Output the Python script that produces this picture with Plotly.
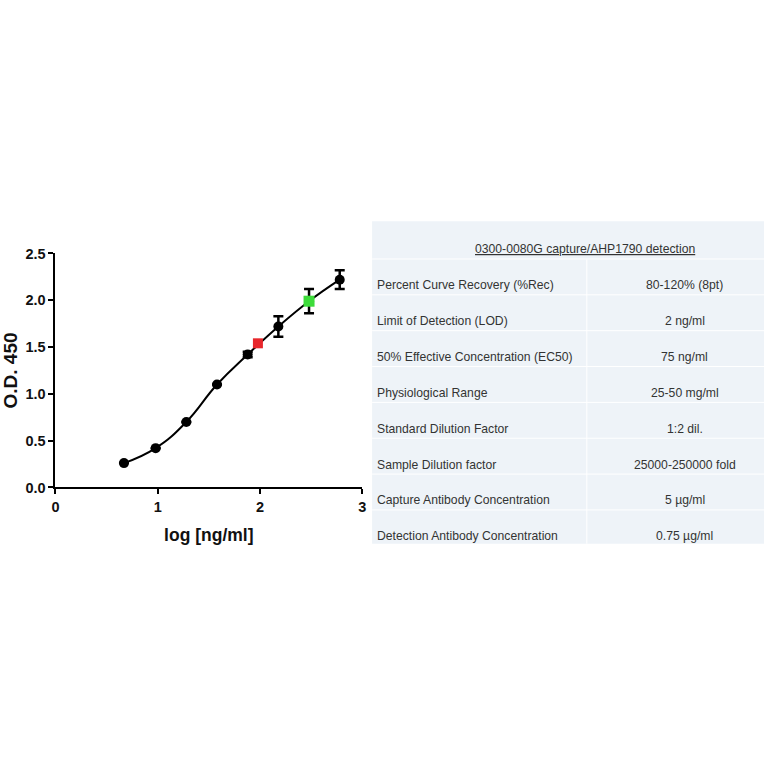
import plotly.graph_objects as go

# ---- data ----
log_conc = [0.67, 0.98, 1.28, 1.58, 1.88, 2.18, 2.48, 2.78]
od450 = [0.26, 0.42, 0.70, 1.10, 1.42, 1.72, 1.99, 2.22]
od_err = [0.0, 0.0, 0.0, 0.0, 0.03, 0.11, 0.13, 0.10]
red_x = [1.98]
red_y = [1.54]
green_x = [2.48]
green_y = [1.99]

x_ticks = [0, 1, 2, 3]
y_ticks = [0.0, 0.5, 1.0, 1.5, 2.0, 2.5]

table_title = "0300-0080G capture/AHP1790 detection"
table_labels = [
    "Percent Curve Recovery (%Rec)",
    "Limit of Detection (LOD)",
    "50% Effective Concentration (EC50)",
    "Physiological Range",
    "Standard Dilution Factor",
    "Sample Dilution factor",
    "Capture Antibody Concentration",
    "Detection Antibody Concentration",
]
table_values = [
    "80-120% (8pt)",
    "2 ng/ml",
    "75 ng/ml",
    "25-50 mg/ml",
    "1:2 dil.",
    "25000-250000 fold",
    "5 µg/ml",
    "0.75 µg/ml",
]

W = H = 764
FONT = "Arial, Liberation Sans, sans-serif"
YS = 1 / 0.975  # vertical layout stretch about the centre


def px_x(p):
    return p / W


def px_y(p):
    q = 382 + (p - 382) * YS
    return 1 - q / H


fig = go.Figure()

fig.add_trace(go.Scatter(
    x=log_conc, y=od450, mode="lines+markers",
    line=dict(color="black", width=2, shape="spline", smoothing=1.3),
    marker=dict(color="black", size=10, symbol="circle"),
    error_y=dict(type="data", array=od_err, visible=True, color="black",
                 thickness=2.5, width=5),
    cliponaxis=False, showlegend=False,
))
fig.add_trace(go.Scatter(
    x=red_x, y=red_y, mode="markers",
    marker=dict(color="#e8262b", size=10, symbol="square"),
    cliponaxis=False, showlegend=False,
))
fig.add_trace(go.Scatter(
    x=green_x, y=green_y, mode="markers",
    marker=dict(color="#3ddc3a", size=11, symbol="square"),
    cliponaxis=False, showlegend=False,
))

axis_common = dict(
    showgrid=False, zeroline=False, showline=True, linecolor="black", linewidth=2,
    ticks="outside", ticklen=5, tickwidth=2, tickcolor="black",
    tickfont=dict(family=FONT, size=14.5, color="#111", weight="bold"),
)

fig.update_layout(
    width=W, height=H,
    margin=dict(l=0, r=0, t=0, b=0),
    paper_bgcolor="white", plot_bgcolor="white",
    xaxis=dict(
        domain=[px_x(52), px_x(362)], range=[0, 3],
        tickvals=x_ticks, ticktext=[str(v) for v in x_ticks],
        title=dict(text="log [ng/ml]", font=dict(family=FONT, size=17.5, color="#111", weight="bold"),
                   standoff=15),
        anchor="y",
        **axis_common,
    ),
    yaxis=dict(
        domain=[px_y(487), px_y(254)], range=[0, 2.5],
        tickvals=y_ticks, ticktext=[f"{v:.1f}" for v in y_ticks],
        title=dict(text="O.D. 450", font=dict(family=FONT, size=19, color="#111", weight="bold"),
                   standoff=6),
        anchor="x",
        **axis_common,
    ),
)

# ---- table ----
top, bottom, left, right = 222, 543, 372, 775
TFS = 12.2
shapes = [dict(type="rect", xref="paper", yref="paper",
               x0=px_x(left), x1=px_x(right), y0=px_y(bottom), y1=px_y(top),
               fillcolor="#eef3f8", line=dict(width=0), layer="below")]
row_y = [250 + 35.7 * i for i in range(len(table_labels) + 1)]
for ry in row_y[:-1]:
    shapes.append(dict(type="line", xref="paper", yref="paper",
                       x0=px_x(left), x1=px_x(right), y0=px_y(ry + 9.5), y1=px_y(ry + 9.5),
                       line=dict(color="white", width=1), layer="below"))
shapes.append(dict(type="line", xref="paper", yref="paper",
                   x0=px_x(589), x1=px_x(589), y0=px_y(row_y[1] - 26), y1=px_y(bottom),
                   line=dict(color="white", width=1), layer="below"))

annotations = [dict(
    text=f"<u>{table_title}</u>", xref="paper", yref="paper",
    x=px_x(587), y=px_y(row_y[0]), xanchor="center", yanchor="middle",
    showarrow=False, font=dict(family=FONT, size=TFS, color="#333"),
)]
for i, (lab, val) in enumerate(zip(table_labels, table_values)):
    yy = px_y(row_y[i + 1])
    annotations.append(dict(text=lab, xref="paper", yref="paper", x=px_x(375), y=yy,
                            xanchor="left", yanchor="middle", showarrow=False,
                            font=dict(family=FONT, size=TFS, color="#333")))
    annotations.append(dict(text=val, xref="paper", yref="paper", x=px_x(688), y=yy,
                            xanchor="center", yanchor="middle", showarrow=False,
                            font=dict(family=FONT, size=TFS, color="#333")))

fig.update_layout(shapes=shapes, annotations=annotations)

fig.write_html(
    "out.html",
    config={"displayModeBar": False},
    post_script="document.body.style.margin='0';document.body.style.overflow='hidden';",
)
